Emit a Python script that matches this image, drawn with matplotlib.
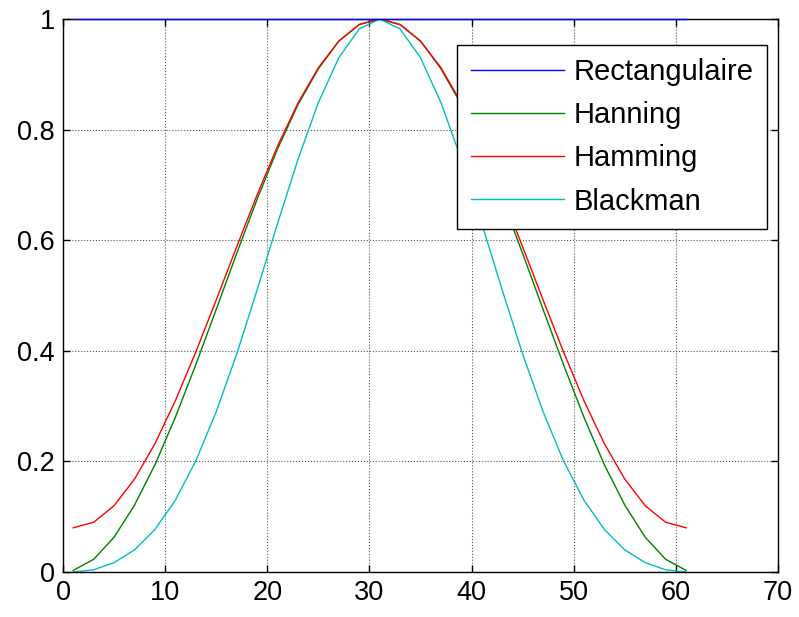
import matplotlib.pyplot as plt

plt.rcParams['font.family'] = ['Liberation Sans', 'DejaVu Sans']

# sample positions (every other point of a 61-point window)
n = [1, 3, 5, 7, 9, 11, 13, 15, 17, 19, 21, 23, 25, 27, 29, 31,
     33, 35, 37, 39, 41, 43, 45, 47, 49, 51, 53, 55, 57, 59, 61]

rect = [1.0] * 31

hanning = [0.003, 0.023, 0.063, 0.121, 0.194, 0.280, 0.375, 0.475,
           0.576, 0.674, 0.765, 0.845, 0.910, 0.960, 0.990, 1.0,
           0.990, 0.960, 0.910, 0.845, 0.765, 0.674, 0.576, 0.475,
           0.375, 0.280, 0.194, 0.121, 0.063, 0.023, 0.003]

hamming = [0.080, 0.090, 0.120, 0.168, 0.232, 0.310, 0.398, 0.492,
           0.588, 0.682, 0.770, 0.848, 0.912, 0.960, 0.990, 1.0,
           0.990, 0.960, 0.912, 0.848, 0.770, 0.682, 0.588, 0.492,
           0.398, 0.310, 0.232, 0.168, 0.120, 0.090, 0.080]

blackman = [0.0, 0.004, 0.017, 0.040, 0.077, 0.130, 0.201, 0.290,
            0.394, 0.510, 0.630, 0.746, 0.849, 0.930, 0.982, 1.0,
            0.982, 0.930, 0.849, 0.746, 0.630, 0.510, 0.394, 0.290,
            0.201, 0.130, 0.077, 0.040, 0.017, 0.004, 0.0]

fig = plt.figure(figsize=(7.99, 6.17), dpi=100)
ax = fig.add_axes([0.0789, 0.0729, 0.8948, 0.8963])

ax.plot(n, rect, color=(0, 0, 1), lw=1.0, label='Rectangulaire', clip_on=False, zorder=3)
ax.plot(n, hanning, color=(0, 0.5, 0), lw=1.0, label='Hanning')
ax.plot(n, hamming, color=(1, 0, 0), lw=1.0, label='Hamming')
ax.plot(n, blackman, color=(0, 0.75, 0.75), lw=1.0, label='Blackman')

ax.set_xlim(0, 70)
ax.set_ylim(0, 1)
ax.set_xticks(range(0, 71, 10))
ax.set_yticks([0, 0.2, 0.4, 0.6, 0.8, 1])
ax.set_yticklabels(['0', '0.2', '0.4', '0.6', '0.8', '1'])
ax.tick_params(direction='in', top=True, right=True, labelsize=19.5, length=5, width=1, pad=6)
ax.grid(True, linestyle=':', color='0.35', lw=0.8)
for s in ax.spines.values():
    s.set_linewidth(1)

leg = ax.legend(loc='upper right', bbox_to_anchor=(0.9846, 0.953), fontsize=21,
                fancybox=False, edgecolor='black', framealpha=1, handlelength=3.2,
                handletextpad=0.34, labelspacing=0.52, borderpad=0.45, borderaxespad=0)
leg.get_frame().set_linewidth(1)

fig.savefig('out.png', dpi=100)
